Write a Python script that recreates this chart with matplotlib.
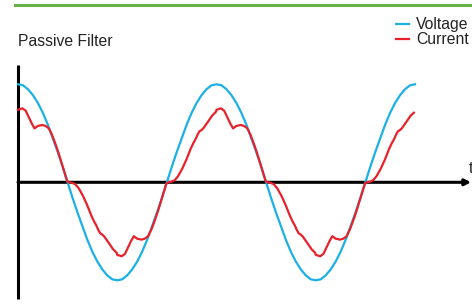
import matplotlib
matplotlib.use("Agg")
import matplotlib.pyplot as plt
from matplotlib.lines import Line2D
import numpy as np

plt.rcParams['font.family'] = ['Liberation Sans', 'DejaVu Sans']

title = "Passive Filter"
series_names = ["Voltage", "Current"]
axis_label = "t"

# phase in degrees, two full cycles
voltage_phase = np.arange(0, 721, 9)
voltage_value = [
    1.00, 0.99, 0.95, 0.89, 0.81, 0.71, 0.59, 0.45, 0.31, 0.16, 0.00,
    -0.16, -0.31, -0.45, -0.59, -0.71, -0.81, -0.89, -0.95, -0.99, -1.00,
    -0.99, -0.95, -0.89, -0.81, -0.71, -0.59, -0.45, -0.31, -0.16, 0.00,
    0.16, 0.31, 0.45, 0.59, 0.71, 0.81, 0.89, 0.95, 0.99, 1.00,
    0.99, 0.95, 0.89, 0.81, 0.71, 0.59, 0.45, 0.31, 0.16, 0.00,
    -0.16, -0.31, -0.45, -0.59, -0.71, -0.81, -0.89, -0.95, -0.99, -1.00,
    -0.99, -0.95, -0.89, -0.81, -0.71, -0.59, -0.45, -0.31, -0.16, 0.00,
    0.16, 0.31, 0.45, 0.59, 0.71, 0.81, 0.89, 0.95, 0.99, 1.00,
]

current_phase = [
    0, 8, 14, 20, 25, 30, 36, 44, 50, 56, 62, 68, 74, 80, 85, 89, 92, 98, 104,
    110, 118, 126, 133, 138, 142, 146, 149, 152, 156, 161, 166, 172, 179,
    180, 188, 194, 200, 205, 210, 216, 224, 230, 236, 242, 248, 254, 260, 265,
    269, 272, 278, 284, 290, 298, 306, 313, 318, 322, 326, 329, 332, 336, 341,
    346, 352, 359,
    360, 368, 374, 380, 385, 390, 396, 404, 410, 416, 422, 428, 434, 440, 445,
    449, 452, 458, 464, 470, 478, 486, 493, 498, 502, 506, 509, 512, 516, 521,
    526, 532, 539,
    540, 548, 554, 560, 565, 570, 576, 584, 590, 596, 602, 608, 614, 620, 625,
    629, 632, 638, 644, 650, 658, 666, 673, 678, 682, 686, 689, 692, 696, 701,
    706, 712, 718,
]
current_value = [
    0.74, 0.755, 0.73, 0.66, 0.60, 0.55, 0.575, 0.585, 0.575, 0.55, 0.48, 0.39,
    0.29, 0.18, 0.09, 0.015, 0.0, -0.005, -0.02, -0.06, -0.14, -0.24, -0.34,
    -0.40, -0.44, -0.49, -0.52, -0.53, -0.55, -0.59, -0.63, -0.68, -0.72,
    -0.74, -0.755, -0.73, -0.66, -0.60, -0.55, -0.575, -0.585, -0.575, -0.55,
    -0.48, -0.39, -0.29, -0.18, -0.09, -0.015, 0.0, 0.005, 0.02, 0.06, 0.14,
    0.24, 0.34, 0.40, 0.44, 0.49, 0.52, 0.53, 0.55, 0.59, 0.63, 0.68, 0.72,
    0.74, 0.755, 0.73, 0.66, 0.60, 0.55, 0.575, 0.585, 0.575, 0.55, 0.48, 0.39,
    0.29, 0.18, 0.09, 0.015, 0.0, -0.005, -0.02, -0.06, -0.14, -0.24, -0.34,
    -0.40, -0.44, -0.49, -0.52, -0.53, -0.55, -0.59, -0.63, -0.68, -0.72,
    -0.74, -0.755, -0.73, -0.66, -0.60, -0.55, -0.575, -0.585, -0.575, -0.55,
    -0.48, -0.39, -0.29, -0.18, -0.09, -0.015, 0.0, 0.005, 0.02, 0.06, 0.14,
    0.24, 0.34, 0.40, 0.44, 0.49, 0.52, 0.53, 0.55, 0.59, 0.63, 0.68, 0.71,
]

blue = "#1cb0e6"
red = "#e8212b"

W, H = 472, 306
fig = plt.figure(figsize=(W / 100, H / 100), dpi=100)
ax = fig.add_axes([0, 0, 1, 1])
ax.set_axis_off()

# map phase 0 -> x px 18, 720 -> x px 415 ; value 0 -> y px 182, 1 -> 98 px
px_per_deg = (415 - 18) / 720.0
ax.set_xlim(-18 / px_per_deg, (W - 18) / px_per_deg)
ax.set_ylim(-(H - 182.3) / 98.0, 182.3 / 98.0)

ax.plot(voltage_phase, voltage_value, color=blue, lw=1.6, label=series_names[0],
        solid_joinstyle='round', zorder=3)
ax.plot(current_phase, current_value, color=red, lw=1.6, label=series_names[1],
        solid_joinstyle='round', zorder=4)

# axes drawn as plain lines
ax.plot([0, 0], [(182.3 - 65) / 98.0, (182.3 - 299) / 98.0], color="black",
        lw=2.2, solid_capstyle='butt', zorder=2)
x_end = (471 - 18) / px_per_deg
ax.annotate("", xy=(x_end, 0), xytext=(0, 0),
            arrowprops=dict(arrowstyle="-|>,head_length=0.35,head_width=0.18",
                            color="black", lw=2.2, shrinkA=0, shrinkB=0),
            zorder=2)
# the "t" sits against the right edge and gets cut off there
ax.text((468.5 - 18) / px_per_deg, (182.3 - 173) / 98.0, axis_label,
        fontsize=11.5, color="#222222", ha="left", va="baseline")

fig.text(18 / W, 1 - 46 / H, title, fontsize=11.3, color="#222222",
         ha="left", va="baseline")

leg = ax.legend(loc="upper right", bbox_to_anchor=(469 / W, 1 - 17 / H),
                bbox_transform=fig.transFigure, frameon=False, fontsize=11.3,
                handlelength=0.85, handletextpad=0.45, labelspacing=0.0,
                borderpad=0, borderaxespad=0)
for t in leg.get_texts():
    t.set_color("#222222")

# green rule along the top
fig.add_artist(Line2D([15 / W, 1], [1 - 5 / H, 1 - 5 / H], color="#66b04a",
                      lw=2.2, transform=fig.transFigure))

fig.savefig("out.png", dpi=100)
